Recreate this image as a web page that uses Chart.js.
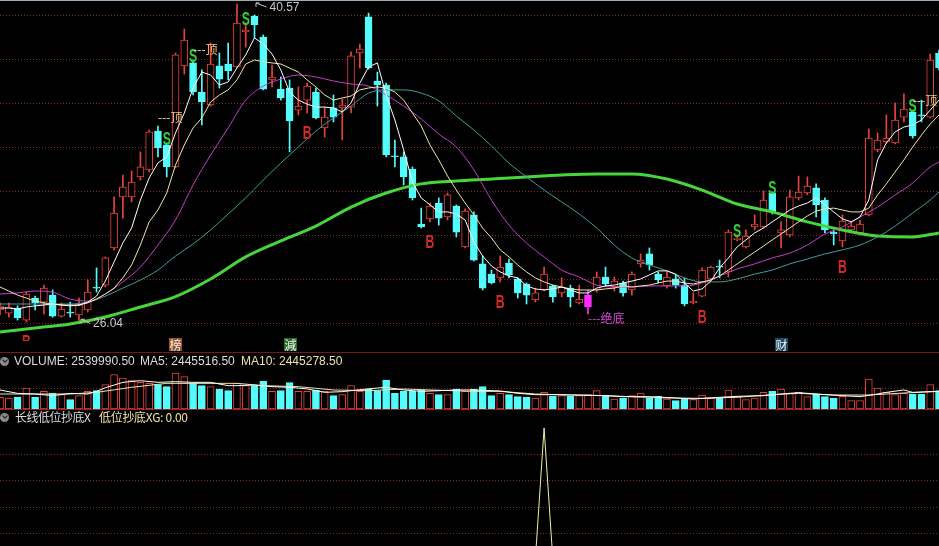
<!DOCTYPE html>
<html>
<head>
<meta charset="utf-8">
<title>K线</title>
<script src="https://cdn.jsdelivr.net/npm/chart.js@4.4.1/dist/chart.umd.min.js"></script>
<style>
  html, body { margin: 0; padding: 0; background: #000; }
  body { position: relative; width: 939px; height: 546px; overflow: hidden; }
  canvas { position: absolute; left: 0; }
  #main { top: 0; }
  #vol { top: 352px; }
  #ind { top: 410px; }
  .rule { position: absolute; left: 0; width: 939px; height: 1px; }
  .hdr { position: absolute; font: 12px "Liberation Sans", Arial, sans-serif; line-height: 14px; white-space: nowrap; color: #dcdcdc; }
  .cjk { font-family: "Noto Sans CJK SC", sans-serif; }
  .knob { position: absolute; left: 0; width: 9px; height: 9px; border-radius: 50%; background: #8c8c8c; }
  .knob::after { content: ""; position: absolute; left: 2.5px; top: 1px; width: 3px; height: 3px; border-right: 1.5px solid #1a1a1a; border-bottom: 1.5px solid #1a1a1a; transform: rotate(45deg); }
  .tag { position: absolute; top: 338px; width: 13px; height: 13px; font: 12px "Noto Sans CJK SC", sans-serif; line-height: 13px; text-align: center; color: #f4f4f4; }
</style>
</head>
<body>
<div class="rule" style="top:0;background:#a3abb8"></div>
<canvas id="main" width="939" height="352"></canvas>
<canvas id="vol" width="939" height="57"></canvas>
<canvas id="ind" width="939" height="136"></canvas>
<div class="rule" style="top:352px;background:#7a1616"></div>
<div class="rule" style="top:409px;background:#9a2020"></div>

<span class="tag" style="left:169px;background:#9a4f24">榜</span>
<span class="tag" style="left:284px;background:#2a6e2a">減</span>
<span class="tag" style="left:775px;background:#1b4a66">财</span>

<div class="knob" style="top:357px"></div>
<div class="hdr" style="top:354px;left:14px">VOLUME: 2539990.50</div>
<div class="hdr" style="top:354px;left:140px">MA5: 2445516.50</div>
<div class="hdr" style="top:354px;left:241px;color:#ece3a6">MA10: 2445278.50</div>

<div class="knob" style="top:413px"></div>
<div class="hdr cjk" style="top:410px;left:15px;letter-spacing:-0.5px">长线低位抄底X</div>
<div class="hdr cjk" style="top:410px;left:99px;letter-spacing:-0.3px;color:#ece3a6">低位抄底XG: 0.00</div>

<script>
// daily prices
const openP = [
  26.67, 26.52, 26.76, 26.19, 27.23, 27.04, 27.37, 26.38, 26.57, 26.43,
  26.67, 27.75, 27.84, 29.59, 32.00, 32.00, 32.94, 33.27, 35.10, 34.44,
  33.41, 38.17, 38.31, 36.94, 36.33, 38.17, 38.26, 38.12, 39.77, 40.52,
  39.53, 37.51, 37.08, 37.13, 36.09, 36.56, 36.94, 35.25, 36.19, 36.19,
  36.23, 38.78, 40.48, 37.46, 37.27, 33.93, 33.88, 33.31, 30.72, 30.96,
  31.71, 31.05, 31.57, 29.64, 31.15, 28.84, 28.36, 28.18, 28.88, 28.13,
  27.89, 27.14, 27.61, 27.80, 27.47, 27.70, 27.00, 26.81, 27.61, 28.22,
  27.75, 27.94, 27.61, 28.84, 29.31, 28.36, 27.80, 28.13, 27.84, 27.00,
  27.32, 28.13, 28.74, 28.46, 29.97, 29.64, 30.58, 30.58, 32.18, 30.30,
  30.20, 31.95, 32.18, 32.42, 31.85, 30.34, 29.92, 30.44, 30.30, 31.15,
  34.21, 34.59, 34.54, 35.76, 36.00, 35.86, 35.76, 38.78
];
const closeP = [
  26.86, 26.81, 26.29, 27.42, 27.00, 27.70, 26.38, 26.71, 26.52, 26.90,
  27.51, 27.70, 29.12, 31.24, 32.46, 32.70, 33.41, 35.06, 34.30, 33.41,
  38.69, 39.39, 36.94, 36.47, 38.26, 37.55, 37.93, 40.19, 39.86, 40.10,
  37.08, 37.65, 36.66, 35.58, 36.28, 37.22, 35.72, 35.76, 35.76, 36.33,
  38.64, 38.97, 38.07, 37.27, 33.97, 33.88, 32.94, 31.95, 30.58, 31.57,
  31.00, 32.09, 30.34, 31.33, 29.02, 27.70, 27.94, 28.69, 28.32, 27.47,
  27.37, 27.47, 28.36, 27.28, 27.75, 27.28, 27.18, 27.37, 28.22, 27.89,
  28.03, 27.47, 28.36, 29.02, 28.79, 28.08, 28.22, 27.84, 26.95, 27.09,
  28.55, 28.69, 28.69, 30.34, 30.06, 30.15, 30.72, 31.85, 31.29, 30.44,
  32.00, 32.23, 32.51, 31.62, 30.44, 30.25, 30.86, 30.62, 30.72, 34.77,
  34.68, 34.77, 35.62, 36.14, 34.87, 35.81, 38.45, 38.07
];
const highP = [
  27.00, 27.00, 26.86, 27.51, 27.32, 27.84, 27.61, 27.00, 27.04, 27.23,
  28.08, 28.65, 29.17, 32.00, 33.03, 33.22, 34.12, 35.15, 35.34, 34.54,
  38.78, 39.91, 38.45, 37.98, 39.25, 38.78, 39.25, 41.09, 40.19, 40.57,
  39.63, 38.21, 37.65, 37.51, 37.18, 37.36, 37.13, 36.23, 36.80, 36.61,
  38.83, 39.20, 40.66, 37.88, 37.36, 34.68, 34.12, 33.41, 31.47, 31.71,
  31.95, 32.18, 31.62, 31.43, 31.29, 29.21, 28.55, 29.21, 29.07, 28.18,
  27.94, 27.70, 28.69, 27.84, 28.18, 27.84, 27.84, 27.61, 28.46, 28.69,
  28.22, 28.03, 28.46, 29.31, 29.59, 28.46, 28.46, 28.32, 28.18, 27.47,
  28.65, 28.74, 29.02, 30.44, 30.20, 30.44, 31.15, 32.28, 32.23, 30.82,
  32.32, 32.98, 32.94, 32.61, 31.95, 30.44, 31.15, 30.82, 30.91, 35.20,
  35.01, 35.86, 36.42, 36.85, 36.09, 36.56, 38.73, 38.92
];
const lowP = [
  26.43, 26.33, 26.19, 26.10, 26.67, 26.48, 26.33, 26.33, 26.33, 26.04,
  26.57, 27.51, 27.75, 29.50, 31.00, 31.76, 32.79, 33.17, 33.88, 32.94,
  33.36, 37.79, 36.80, 35.39, 36.28, 37.13, 37.51, 38.07, 39.06, 39.49,
  37.04, 37.18, 36.56, 34.12, 35.86, 35.95, 35.67, 34.82, 35.53, 34.68,
  35.95, 38.07, 38.02, 36.28, 33.88, 33.41, 32.56, 31.85, 30.53, 30.82,
  30.67, 30.91, 30.11, 29.59, 28.98, 27.61, 27.89, 27.99, 28.18, 27.23,
  26.95, 27.04, 27.56, 27.04, 27.28, 26.81, 26.95, 26.48, 27.51, 27.80,
  27.56, 27.32, 27.37, 28.69, 28.55, 27.94, 27.70, 27.70, 26.86, 26.95,
  27.28, 28.08, 28.18, 28.22, 29.92, 29.59, 30.44, 30.53, 31.19, 29.59,
  30.11, 31.85, 32.09, 31.05, 30.30, 29.73, 29.64, 30.30, 30.20, 31.10,
  34.12, 34.54, 34.49, 35.53, 34.77, 35.53, 35.72, 37.98
];

// moving averages as drawn on the chart
const ma5 = [
  26.76, 26.76, 26.71, 26.81, 26.86, 26.90, 26.95, 26.90, 26.86, 26.90,
  27.04, 27.32, 28.03, 28.93, 29.83, 30.53, 31.85, 32.89, 33.60, 33.88,
  35.01, 35.95, 37.13, 37.88, 37.74, 37.27, 37.41, 38.07, 38.69, 39.49,
  39.20, 38.73, 37.98, 36.94, 36.56, 36.37, 36.23, 36.23, 36.19, 36.00,
  36.42, 37.36, 38.12, 38.31, 36.80, 35.62, 34.21, 32.70, 31.95, 31.62,
  31.29, 31.29, 31.19, 30.91, 29.87, 29.21, 28.74, 28.46, 28.27, 28.18,
  27.80, 27.66, 27.61, 27.66, 27.75, 27.61, 27.47, 27.47, 27.70, 27.80,
  27.84, 27.94, 28.03, 28.13, 28.32, 28.51, 28.51, 28.36, 27.94, 27.56,
  27.66, 28.03, 28.65, 29.12, 29.64, 29.97, 30.30, 30.53, 30.82, 31.10,
  31.38, 31.57, 31.71, 31.95, 31.62, 31.29, 30.96, 30.82, 31.05, 31.85,
  33.74, 34.54, 35.06, 35.29, 35.39, 35.62, 36.09, 36.56
];
const ma10 = [
  27.75, 27.56, 27.37, 27.23, 27.09, 27.00, 26.95, 26.90, 26.90, 26.90,
  27.00, 27.18, 27.42, 27.70, 28.18, 28.79, 29.73, 30.82, 31.38, 32.18,
  33.50, 34.44, 35.25, 35.72, 36.47, 36.80, 37.04, 37.51, 38.26, 38.45,
  38.36, 38.31, 38.26, 38.07, 37.88, 37.51, 37.18, 36.80, 36.56, 36.66,
  36.75, 37.04, 37.13, 37.18, 37.13, 36.94, 36.56, 35.95, 35.34, 34.44,
  33.74, 32.98, 32.32, 31.71, 31.15, 30.53, 30.06, 29.50, 29.17, 28.79,
  28.46, 28.18, 27.99, 27.84, 27.75, 27.66, 27.61, 27.61, 27.61, 27.66,
  27.70, 27.80, 27.75, 27.80, 27.84, 27.94, 28.03, 28.03, 27.94, 27.89,
  27.99, 28.08, 28.27, 28.55, 28.84, 29.12, 29.40, 29.68, 29.97, 30.25,
  30.53, 30.82, 31.10, 31.33, 31.43, 31.47, 31.38, 31.29, 31.29, 31.47,
  32.09, 32.61, 33.17, 33.74, 34.35, 34.91, 35.43, 35.86
];
// slower averages, read at every few days: [day, price]
const ma20Pts = [[0,27.42],[2,27.47],[4,27.56],[6,27.51],[8,27.18],[10,27.09],[12,27.42],[14,27.99],[16,28.69],[18,29.73],[20,30.91],[22,32.56],[24,33.97],[26,35.25],[28,36.56],[30,37.22],[32,37.55],[34,37.74],[36,37.65],[38,37.46],[40,37.32],[42,37.22],[44,36.80],[46,36.28],[48,35.67],[50,34.96],[52,34.35],[54,33.27],[56,31.85],[58,30.67],[60,29.82],[62,29.17],[64,28.55],[66,28.22],[68,27.84],[70,27.75],[72,27.75],[74,27.80],[76,27.80],[78,27.80],[80,27.94],[82,28.27],[84,28.60],[86,28.84],[88,29.12],[90,29.35],[92,29.73],[94,30.25],[96,30.58],[98,31.05],[100,31.52],[102,32.09],[104,32.65],[106,33.41],[107,33.64]];
const ma60Pts = [[0,26.95],[4,26.95],[8,26.95],[10,27.04],[12,27.32],[14,27.70],[16,28.08],[18,28.55],[20,29.21],[22,29.78],[24,30.44],[26,31.19],[28,31.95],[30,32.79],[32,33.59],[34,34.35],[36,35.10],[38,35.72],[40,36.28],[42,36.89],[44,37.04],[46,37.04],[48,36.89],[50,36.52],[52,35.81],[54,35.15],[56,34.40],[58,33.59],[60,32.94],[62,32.32],[64,31.76],[66,31.19],[68,30.53],[70,29.73],[72,29.12],[74,28.79],[76,28.51],[78,28.18],[80,27.99],[82,27.99],[84,28.13],[86,28.36],[88,28.55],[90,28.84],[92,29.07],[94,29.31],[96,29.50],[98,29.73],[100,30.11],[102,30.62],[104,31.24],[106,31.85],[107,32.23]];
const longMaPts = [[0,25.63],[4,25.82],[8,26.01],[12,26.34],[16,26.81],[20,27.30],[24,28.13],[28,29.17],[32,29.92],[36,30.62],[40,31.52],[44,32.18],[48,32.61],[52,32.75],[56,32.84],[60,32.94],[64,33.03],[68,33.08],[72,33.08],[76,32.84],[80,32.32],[84,31.66],[88,31.29],[92,30.82],[96,30.44],[100,30.15],[104,30.11],[107,30.30]];

// volume in millions of shares
const volumeM = [
  1.62, 1.53, 1.62, 2.91, 1.62, 2.45, 2.22, 1.99, 1.30, 1.85,
  2.45, 2.54, 3.38, 4.77, 4.30, 4.03, 3.70, 3.56, 3.38, 3.10,
  5.00, 4.49, 3.56, 3.24, 3.10, 2.78, 2.54, 3.61, 3.24, 3.24,
  3.84, 2.45, 2.54, 3.66, 2.45, 2.45, 2.64, 2.45, 1.85, 1.99,
  3.24, 2.45, 2.78, 2.54, 4.03, 2.17, 2.45, 2.45, 2.64, 2.17,
  1.99, 1.99, 2.78, 2.45, 2.78, 3.10, 1.85, 2.17, 1.99, 1.71,
  1.62, 1.53, 2.31, 1.76, 1.85, 1.76, 1.85, 1.99, 2.54, 1.85,
  1.39, 1.48, 1.85, 2.22, 1.48, 1.76, 1.39, 1.16, 1.48, 1.30,
  1.94, 1.48, 1.48, 2.64, 1.76, 1.30, 1.53, 2.31, 2.45, 2.78,
  2.22, 2.31, 1.71, 2.08, 1.71, 1.48, 1.76, 1.16, 1.16, 4.16,
  2.91, 2.31, 1.99, 2.17, 2.08, 2.08, 3.38, 2.54
];
const volMa5Pts = [[0,2.64],[2,2.17],[4,2.08],[6,1.85],[8,2.17],[10,2.08],[11,2.45],[12,2.95],[14,3.70],[16,3.93],[18,3.70],[20,3.79],[22,3.70],[24,3.70],[26,3.24],[27,3.24],[29,3.33],[31,3.10],[33,3.01],[35,2.78],[37,2.31],[39,2.41],[41,2.68],[43,2.91],[44,3.01],[46,2.64],[48,2.45],[50,2.54],[52,2.64],[54,2.64],[57,2.50],[59,2.17],[61,1.99],[63,1.99],[66,1.94],[69,1.85],[71,1.71],[74,1.71],[77,1.53],[79,1.39],[82,1.62],[84,1.76],[87,1.85],[89,2.08],[91,2.27],[93,2.08],[96,1.85],[98,1.71],[100,2.08],[101,2.31],[103,2.64],[104,2.31],[106,2.41],[107,2.45]];
const volMa10Pts = [[0,2.08],[4,2.08],[8,2.08],[11,2.31],[15,3.01],[19,3.56],[23,3.56],[27,3.56],[30,3.24],[34,3.10],[38,2.64],[42,2.54],[46,2.78],[49,2.64],[54,2.45],[57,2.45],[61,2.08],[65,1.94],[69,1.85],[72,1.71],[76,1.53],[80,1.48],[84,1.62],[88,1.99],[91,2.17],[95,1.94],[99,1.94],[103,2.22],[107,2.45]];

// 低位抄底XG signal
const xgSignal = [
  0, 0, 0, 0, 0, 0, 0, 0, 0, 0,
  0, 0, 0, 0, 0, 0, 0, 0, 0, 0,
  0, 0, 0, 0, 0, 0, 0, 0, 0, 0,
  0, 0, 0, 0, 0, 0, 0, 0, 0, 0,
  0, 0, 0, 0, 0, 0, 0, 0, 0, 0,
  0, 0, 0, 0, 0, 0, 0, 0, 0, 0,
  0, 0, 1, 0, 0, 0, 0, 0, 0, 0,
  0, 0, 0, 0, 0, 0, 0, 0, 0, 0,
  0, 0, 0, 0, 0, 0, 0, 0, 0, 0,
  0, 0, 0, 0, 0, 0, 0, 0, 0, 0,
  0, 0, 0, 0, 0, 0, 0, 0
];

// signal marks
const sellDays = [19, 22, 28, 84, 88, 104];
const buyDays = [3, 35, 49, 57, 80, 96];
const topMarks = [{ day: 18, price: 35.76 }, { day: 22, price: 38.97 }, { day: 104, price: 36.56 }];
const bottomMark = { day: 67, price: 26.29 };
const specialDay = 67;   // magenta candle
const maxDay = 29, minDay = 9;

const mainGrid = [40.57, 38.494, 36.419, 34.343, 32.267, 30.191, 28.116, 26.04];
const volGrid = [2.9];
const indGrid = [0.2, 0.4, 0.6, 0.8];

const UP = '#e8433b', DOWN = '#54fcfc', MAGENTA = '#ff2cff', BG = '#000000';

const days = openP.map((_, i) => String(i));
const isUp = openP.map((o, i) => closeP[i] >= o);

/** @param {Array.<number[]>} pts */
const sparse = pts => {
	const out = days.map(() => null);
	for (const [d, v] of pts) out[d] = v;
	return out;
};

const gridScale = (min, max, values) => ({
	min, max,
	afterBuildTicks: axis => { axis.ticks = values.map(v => ({ value: v })); },
	ticks: { display: false },
	grid: { color: '#7e2b2b', lineWidth: 1, drawTicks: false },
	border: { display: false, dash: [1, 2] }
});

const baseOptions = (yScale) => ({
	responsive: false,
	animation: false,
	devicePixelRatio: 1,
	layout: { padding: 0 },
	plugins: { legend: { display: false }, tooltip: { enabled: false } },
	scales: {
		x: { display: false, offset: false },
		y: yScale
	}
});

const lineSet = (data, color, width, extra) => Object.assign({
	type: 'line', data, borderColor: color, borderWidth: width,
	pointRadius: 0, spanGaps: true, tension: 0, order: 0
}, extra || {});

// narrow letter, like the terminal's signal font
const narrowLetter = (ctx, ch, px, py) => {
	ctx.save();
	ctx.translate(px, py);
	ctx.scale(0.68, 1);
	ctx.fillText(ch, 0, 0);
	ctx.restore();
};

// text marks on the price panel
const marksPlugin = {
	id: 'marks',
	afterDatasetsDraw(chart) {
		const { ctx, scales: { x, y } } = chart;
		ctx.save();
		ctx.beginPath();
		ctx.rect(0, 0, chart.width, 341);
		ctx.clip();
		ctx.textAlign = 'center';
		ctx.textBaseline = 'middle';
		ctx.font = 'bold 18px "Liberation Sans", sans-serif';
		ctx.fillStyle = '#36cc36';
		for (const d of sellDays) narrowLetter(ctx, 'S', x.getPixelForValue(d), y.getPixelForValue(highP[d]) - 3);
		ctx.fillStyle = '#d42a2a';
		for (const d of buyDays) narrowLetter(ctx, 'B', x.getPixelForValue(d), y.getPixelForValue(lowP[d]) + 21);

		ctx.textAlign = 'left';
		ctx.font = '12px "Noto Sans CJK SC", sans-serif';
		for (const m of topMarks) {
			const px = x.getPixelForValue(m.day), py = y.getPixelForValue(m.price);
			ctx.fillStyle = '#e8e0d0';
			ctx.fillText('---', px, py);
			ctx.fillStyle = '#f2c27e';
			ctx.fillText('顶', px + ctx.measureText('---').width, py);
		}
		ctx.fillStyle = '#dc46dc';
		ctx.fillText('---绝底', x.getPixelForValue(bottomMark.day), y.getPixelForValue(bottomMark.price));

		// highest / lowest price pointers
		ctx.strokeStyle = '#c8c8c8';
		ctx.fillStyle = '#c8c8c8';
		ctx.lineWidth = 1;
		ctx.font = '12px "Liberation Sans", Arial, sans-serif';
		const hx = x.getPixelForValue(maxDay), hy = y.getPixelForValue(highP[maxDay]);
		ctx.beginPath();
		ctx.moveTo(hx + 1.5, hy - 12); ctx.lineTo(hx + 12, hy - 8);
		ctx.moveTo(hx + 1.5, hy - 12); ctx.lineTo(hx + 1.5, hy - 8);
		ctx.moveTo(hx + 1.5, hy - 12); ctx.lineTo(hx + 5, hy - 12);
		ctx.stroke();
		ctx.fillText(highP[maxDay].toFixed(2), hx + 15, hy - 7);
		const lx = x.getPixelForValue(minDay), ly = y.getPixelForValue(lowP[minDay]);
		ctx.beginPath();
		ctx.moveTo(lx + 2, ly - 4); ctx.lineTo(lx + 11, ly);
		ctx.moveTo(lx + 2, ly - 4); ctx.lineTo(lx + 2, ly);
		ctx.moveTo(lx + 2, ly - 4); ctx.lineTo(lx + 6, ly - 4);
		ctx.stroke();
		ctx.fillText(lowP[minDay].toFixed(2), lx + 14, ly);
		ctx.restore();
	}
};

const candleEdge = isUp.map((u, i) => i === specialDay ? MAGENTA : (u ? UP : DOWN));
const candleFill = isUp.map((u, i) => i === specialDay ? MAGENTA : (u ? BG : DOWN));

new Chart(document.getElementById('main'), {
	type: 'bar',
	data: {
		labels: days,
		datasets: [
			lineSet(ma5, '#ffffff', 1),
			lineSet(ma10, '#efe6a8', 1),
			lineSet(sparse(ma20Pts), '#c83ec8', 1, { cubicInterpolationMode: 'monotone' }),
			lineSet(sparse(ma60Pts), '#3f9e9e', 1, { cubicInterpolationMode: 'monotone' }),
			lineSet(sparse(longMaPts), '#46d63a', 3, { cubicInterpolationMode: 'monotone' }),
			{
				label: 'body',
				data: openP.map((o, i) => [o, closeP[i]]),
				backgroundColor: candleFill,
				borderColor: candleEdge,
				borderWidth: 1,
				borderSkipped: false,
				barThickness: 7,
				grouped: false,
				order: 1
			},
			{
				label: 'wick',
				data: lowP.map((l, i) => [l, highP[i]]),
				backgroundColor: candleEdge,
				borderWidth: 0,
				barThickness: 1,
				grouped: false,
				order: 2
			}
		]
	},
	options: baseOptions(gridScale(24.687, 41.277, mainGrid)),
	plugins: [marksPlugin]
});

new Chart(document.getElementById('vol'), {
	type: 'bar',
	data: {
		labels: days,
		datasets: [
			lineSet(sparse(volMa5Pts), '#ffffff', 1),
			lineSet(sparse(volMa10Pts), '#efe6a8', 1),
			{
				label: 'volume',
				data: volumeM,
				backgroundColor: isUp.map(u => u ? BG : DOWN),
				borderColor: isUp.map(u => u ? UP : DOWN),
				borderWidth: 1,
				borderSkipped: false,
				barThickness: 7,
				grouped: false,
				order: 1
			}
		]
	},
	options: baseOptions(gridScale(0, 7.91, volGrid))
});

new Chart(document.getElementById('ind'), {
	type: 'line',
	data: {
		labels: days,
		datasets: [lineSet(xgSignal, '#f0eea0', 1)]
	},
	options: baseOptions(gridScale(0.1061, 1.1364, indGrid))
});
</script>
</body>
</html>
